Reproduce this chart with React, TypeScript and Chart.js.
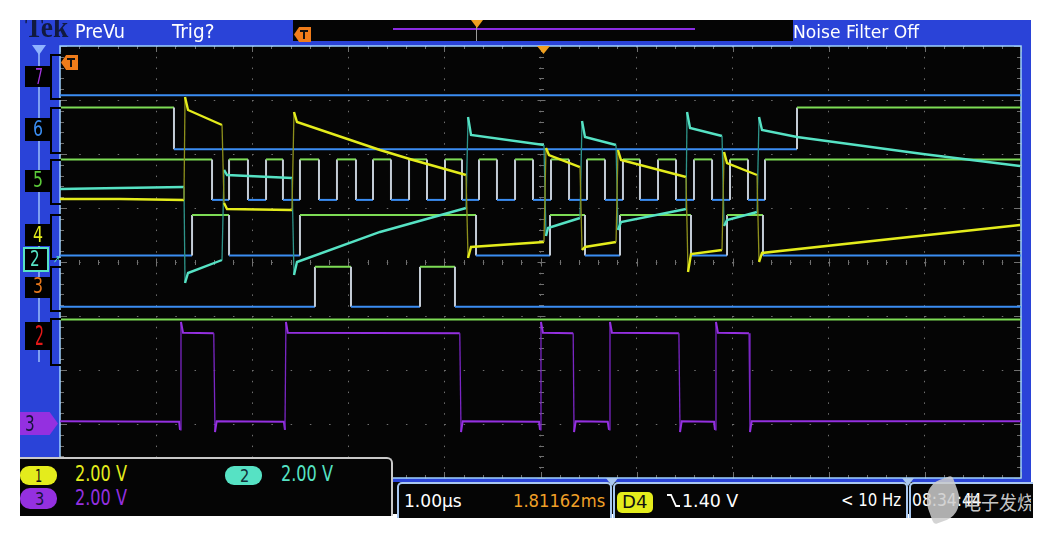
import React, { useEffect, useLayoutEffect, useRef } from "react";
import { Chart, registerables } from "chart.js";
Chart.register(...registerables);

// Horizontal: time in divisions (1.00 µs/div, 10 div). Vertical: screen divisions (0 bottom .. 8 top).
const ch1Time = [0, 0.624, 1.29, 1.301, 1.332, 1.686, 1.707, 1.738, 2.414, 2.435, 2.466, 3.33, 3.673, 4.225, 4.246, 4.277, 5.036, 5.057, 5.088, 5.411, 5.432, 5.463, 5.786, 5.806, 5.838, 6.514, 6.535, 6.566, 6.889, 6.91, 6.941, 7.253, 7.274, 7.305, 9.99];
const ch1Level = [5.167, 5.167, 5.148, 7.056, 6.815, 6.537, 5.093, 4.981, 4.963, 6.778, 6.593, 6.074, 5.889, 5.611, 4.074, 4.278, 4.37, 6.111, 5.981, 5.759, 4.222, 4.278, 4.37, 6.074, 5.889, 5.574, 3.815, 4.148, 4.222, 6.037, 5.833, 5.611, 4.0, 4.167, 4.685];

const ch2Time = [0, 0.624, 1.29, 1.301, 1.332, 1.686, 1.707, 1.738, 2.414, 2.435, 2.466, 3.33, 4.225, 4.246, 4.277, 5.036, 5.057, 5.078, 5.411, 5.432, 5.463, 5.786, 5.806, 5.838, 6.514, 6.525, 6.556, 6.889, 6.91, 6.941, 7.253, 7.274, 7.305, 7.669, 8.98, 9.99];
const ch2Level = [5.352, 5.37, 5.389, 3.611, 3.796, 4.037, 5.704, 5.611, 5.556, 3.759, 4.0, 4.556, 5.0, 6.685, 6.352, 6.167, 4.481, 4.63, 4.815, 6.611, 6.315, 6.167, 4.593, 4.741, 4.981, 6.778, 6.481, 6.333, 4.667, 4.778, 4.926, 6.685, 6.444, 6.315, 6.0, 5.778];

const ch3Time = [0, 1.24, 1.249, 1.259, 1.28, 1.6, 1.613, 1.63, 2.33, 2.341, 2.351, 2.37, 4.16, 4.173, 4.19, 4.985, 4.995, 5.005, 5.025, 5.34, 5.349, 5.366, 5.7, 5.713, 5.723, 5.743, 6.44, 6.452, 6.469, 6.806, 6.816, 6.826, 6.846, 7.17, 7.18, 7.197, 10];
const ch3Level = [1.05, 1.04, 0.89, 2.89, 2.69, 2.68, 0.85, 1.05, 1.04, 0.89, 2.89, 2.69, 2.68, 0.85, 1.05, 1.04, 0.89, 2.89, 2.69, 2.68, 0.85, 1.05, 1.04, 0.89, 2.89, 2.69, 2.68, 0.85, 1.05, 1.04, 0.89, 2.89, 2.69, 2.68, 0.85, 1.05, 1.05];

const digitalNames = ["D7", "D6", "D5", "D4", "D3", "D2"];
const digitalLow = [7.09, 6.09, 5.15, 4.12, 3.17, 2.19];
const digitalHigh = [7.83, 6.86, 5.9, 4.87, 3.91, 2.935];
const digitalStartHigh = [false, true, true, false, false, true];
const d7Edges: number[] = [];
const d6Edges = [1.186, 7.669];
const d5Edges = [1.582, 1.759, 1.956, 2.144, 2.32, 2.497, 2.695, 2.882, 3.08, 3.257, 3.444, 3.632, 3.819, 4.006, 4.183, 4.36, 4.547, 4.735, 4.922, 5.109, 5.297, 5.484, 5.671, 5.858, 6.035, 6.223, 6.41, 6.597, 6.785, 6.972, 7.159, 7.336];
const d4Edges = [1.374, 1.759, 2.497, 4.329, 5.099, 5.463, 5.827, 6.566, 6.941, 7.315];
const d3Edges = [2.653, 3.028, 3.746, 4.11];
const d2Edges: number[] = [];
const digitalEdges = [d7Edges, d6Edges, d5Edges, d4Edges, d3Edges, d2Edges];

const YELLOW = "#e4ec1c";
const DIM_YELLOW = "#8e901c";
const CYAN = "#56e2c4";
const DIM_CYAN = "#2e948a";
const PURPLE = "#9430e0";
const GREEN = "#7ddc55";
const BLUE = "#3b8df2";
const EDGE = "#c4ccd6";
const GRID = "#707070";
const FRAME = "#2a43d8";
const FONT = "'DejaVu Sans Condensed', 'Liberation Sans Narrow', 'DejaVu Sans', sans-serif";

function digitalPoints(edges: number[], startHigh: boolean, low: number, high: number) {
  let st = startHigh;
  const pts = [{ x: 0, y: st ? high : low }];
  for (const e of edges) {
    pts.push({ x: e, y: st ? high : low });
    st = !st;
    pts.push({ x: e, y: st ? high : low });
  }
  pts.push({ x: 10, y: st ? high : low });
  return pts;
}

function analogSet(label: string, t: number[], v: number[], color: string, dim: string, w: number) {
  const steep = (c: any) =>
    Math.abs(c.p1.parsed.x - c.p0.parsed.x) < 0.025 && Math.abs(c.p1.parsed.y - c.p0.parsed.y) > 0.6;
  return {
    label,
    data: t.map((x, i) => ({ x, y: v[i] })),
    borderColor: color,
    borderWidth: w,
    pointRadius: 0,
    segment: {
      borderColor: (c: any) => (steep(c) ? dim : color),
      borderWidth: (c: any) => (steep(c) ? 1.3 : w),
    },
  };
}

const scopePlugin = {
  id: "scope",
  beforeDraw(chart: any) {
    const { ctx, chartArea: a } = chart;
    ctx.save();
    ctx.fillStyle = "#050505";
    ctx.fillRect(a.left, a.top, a.right - a.left, a.bottom - a.top);
    ctx.restore();
  },
  beforeDatasetsDraw(chart: any) {
    const { ctx, chartArea: a, scales } = chart;
    const x = scales.x, y = scales.y;
    const line = (x1: number, y1: number, x2: number, y2: number) => {
      ctx.beginPath();
      ctx.moveTo(x1, y1);
      ctx.lineTo(x2, y2);
      ctx.stroke();
    };
    ctx.save();
    ctx.strokeStyle = GRID;
    ctx.lineWidth = 1;
    const xc = Math.round(x.getPixelForValue(5)) + 0.5;
    const yc = Math.round(y.getPixelForValue(4)) + 0.5;
    for (let i = 0; i <= 50; i++) {
      const px = Math.round(x.getPixelForValue(i * 0.2)) + 0.5;
      const L = i % 5 === 0 ? 4 : 2.5;
      line(px, yc - L, px, yc + L);
      line(px, a.top, px, a.top + (i % 5 === 0 ? 6 : 3));
      line(px, a.bottom, px, a.bottom - (i % 5 === 0 ? 6 : 3));
    }
    for (let j = 0; j <= 40; j++) {
      const py = Math.round(y.getPixelForValue(j * 0.2)) + 0.5;
      const L = j % 5 === 0 ? 4 : 2.5;
      line(xc - L, py, xc + L, py);
      line(a.left, py, a.left + (j % 5 === 0 ? 7 : 4), py);
      line(a.right, py, a.right - (j % 5 === 0 ? 7 : 4), py);
    }
    ctx.strokeStyle = "#9fd2ff";
    ctx.lineWidth = 1.5;
    ctx.strokeRect(a.left, a.top, a.right - a.left, a.bottom - a.top);
    ctx.restore();
  },
};

function Txt({ x, y, w, s, c, t, f = FONT, wt = 400 }: any) {
  const ref = useRef<HTMLSpanElement>(null);
  useLayoutEffect(() => {
    const el = ref.current;
    if (!el) return;
    const fit = () => {
      const nw = el.offsetWidth;
      if (nw > 0) el.style.transform = `scaleX(${w / nw})`;
    };
    fit();
    const fonts = (document as any).fonts;
    if (fonts && fonts.ready) fonts.ready.then(fit);
  }, [w, t]);
  return (
    <span
      ref={ref}
      style={{
        position: "absolute",
        left: x,
        top: y - 0.485 * s,
        fontSize: s,
        lineHeight: `${s}px`,
        color: c,
        fontFamily: f,
        fontWeight: wt,
        whiteSpace: "pre",
        transformOrigin: "0 50%",
      }}
    >
      {t}
    </span>
  );
}

function Box({ x, y, w, h, bg, st }: any) {
  return <div style={{ position: "absolute", left: x, top: y, width: w, height: h, background: bg, ...(st || {}) }} />;
}

function TMarker({ x, y }: any) {
  return (
    <div
      style={{
        position: "absolute", left: x, top: y, width: 17, height: 15, background: "#f07c1a",
        clipPath: "polygon(0 50%, 30% 0, 100% 0, 100% 100%, 30% 100%)",
      }}
    >
      <div style={{ position: "absolute", left: 6, top: 3, width: 8, height: 2, background: "#111" }} />
      <div style={{ position: "absolute", left: 9, top: 3, width: 2, height: 9, background: "#111" }} />
    </div>
  );
}

function Bracket({ top, bottom }: any) {
  return (
    <div
      style={{
        position: "absolute", left: 50, top, width: 9, height: bottom - top,
        borderTop: "2px solid #000", borderLeft: "2px solid #000", borderBottom: "2px solid #000",
      }}
    />
  );
}

export default function App() {
  const canvasRef = useRef<HTMLCanvasElement>(null);

  useEffect(() => {
    const canvas = canvasRef.current;
    if (!canvas) return;
    const datasets: any[] = [
      analogSet("CH1", ch1Time, ch1Level, YELLOW, DIM_YELLOW, 2.4),
      analogSet("CH2", ch2Time, ch2Level, CYAN, DIM_CYAN, 2.4),
      analogSet("CH3", ch3Time, ch3Level, PURPLE, "#7a26c4", 2),
    ];
    digitalNames.forEach((name, k) => {
      const mid = (digitalLow[k] + digitalHigh[k]) / 2;
      datasets.push({
        label: name,
        data: digitalPoints(digitalEdges[k], digitalStartHigh[k], digitalLow[k], digitalHigh[k]),
        borderWidth: 2,
        pointRadius: 0,
        borderColor: BLUE,
        segment: {
          borderColor: (c: any) =>
            Math.abs(c.p0.parsed.y - c.p1.parsed.y) > 0.05 ? EDGE : c.p0.parsed.y > mid ? GREEN : BLUE,
        },
      });
    });
    const chart = new Chart(canvas, {
      type: "line",
      data: { datasets },
      options: {
        animation: false,
        responsive: false,
        events: [],
        layout: { padding: { left: 60, top: 46, right: 39, bottom: 56 } },
        plugins: { legend: { display: false }, tooltip: { enabled: false } },
        elements: { point: { radius: 0 }, line: { tension: 0 } },
        scales: {
          x: {
            type: "linear", min: 0, max: 10,
            ticks: { display: false, stepSize: 1 },
            grid: { color: GRID, lineWidth: 1, drawTicks: false },
            border: { display: false, dash: [1.5, 9.3] },
            afterFit: (s: any) => { s.height = 0; },
          },
          y: {
            type: "linear", min: 0, max: 8,
            ticks: { display: false, stepSize: 1 },
            grid: { color: GRID, lineWidth: 1, drawTicks: false },
            border: { display: false, dash: [1.5, 17.72] },
            afterFit: (s: any) => { s.width = 0; },
          },
        },
      } as any,
      plugins: [scopePlugin],
    });
    return () => chart.destroy();
  }, []);

  return (
    <div style={{ position: "absolute", left: 0, top: 0, width: 1060, height: 534, background: "#fff", overflow: "hidden" }}>
      {/* blue frame */}
      <Box x={20} y={20} w={1011} h={462} bg={FRAME} />
      <canvas ref={canvasRef} width={1060} height={534} style={{ position: "absolute", left: 0, top: 0 }} />

      {/* header */}
      <Box x={293} y={20} w={500} h={21} bg="#050505" />
      <TMarker x={294} y={27} />
      <Box x={393} y={28} w={302} h={2} bg="#8a2be2" />
      <Box x={476} y={26} w={1} h={15} bg="#9a9a9a" />
      <div style={{ position: "absolute", left: 471, top: 20, width: 12, height: 8, background: "#f0a020", clipPath: "polygon(0 0, 100% 0, 50% 100%)" }} />
      <div style={{ position: "absolute", left: 20, top: 20, width: 60, height: 21, overflow: "hidden" }}>
        <Txt x={5} y={7} w={43} s={30} c="#111a40" t="Tek" f="'Liberation Serif', 'DejaVu Serif', serif" wt={700} />
      </div>
      <Txt x={75} y={30.5} w={50} s={20} c="#fff" t="PreVu" />
      <Txt x={172} y={30.5} w={42} s={20} c="#fff" t="Trig?" />
      <Txt x={793} y={31.5} w={126} s={18} c="#fff" t="Noise Filter Off" />

      {/* graticule markers */}
      <TMarker x={61} y={55} />
      <div style={{ position: "absolute", left: 537, top: 46, width: 13, height: 8, background: "#f0a020", clipPath: "polygon(0 0, 100% 0, 50% 100%)" }} />

      {/* left strip */}
      <Box x={38} y={46} w={2} h={316} bg="#7f9ff2" />
      <div style={{ position: "absolute", left: 32, top: 45, width: 14, height: 10, background: "#8fb4ff", clipPath: "polygon(0 0, 100% 0, 50% 100%)" }} />
      <Bracket top={54} bottom={96} />
      <Bracket top={107} bottom={150} />
      <Bracket top={159} bottom={201} />
      <Bracket top={214} bottom={256} />
      <Bracket top={266} bottom={308} />
      <Bracket top={318} bottom={362} />
      <Box x={25} y={66} w={26} h={21} bg="#000" />
      <Box x={25} y={118} w={26} h={23} bg="#000" />
      <Box x={25} y={170} w={26} h={22} bg="#000" />
      <Box x={25} y={224} w={26} h={22} bg="#000" />
      <Box x={25} y={277} w={26} h={21} bg="#000" />
      <Box x={25} y={322} w={26} h={28} bg="#000" />
      <Box x={23} y={247} w={22} h={21} bg="#000" st={{ border: `2px solid ${CYAN}` }} />
      <Txt x={35} y={77} w={8} s={21} c="#a436e0" t="7" />
      <Txt x={33} y={129.5} w={10} s={21} c="#3a8cf0" t="6" />
      <Txt x={33} y={180.5} w={10} s={21} c="#5ccc3a" t="5" />
      <Txt x={33} y={235} w={10} s={21} c={YELLOW} t="4" />
      <Txt x={30} y={258.5} w={10} s={22} c={CYAN} t="2" />
      <Txt x={53} y={259} w={7} s={11} c={CYAN} t="↗" />
      <Txt x={33} y={286.5} w={10} s={21} c="#e8781c" t="3" />
      <Txt x={35} y={336} w={9} s={26} c="#e41818" t="2" />
      <div style={{ position: "absolute", left: 20, top: 412, width: 38, height: 23, background: PURPLE, clipPath: "polygon(0 0, 78% 0, 100% 50%, 78% 100%, 0 100%)" }} />
      <Txt x={25} y={423.5} w={10} s={22} c="#14143a" t="3" />

      {/* bottom-left panel */}
      <Box x={20} y={457} w={371} h={57} bg="#050505" st={{ borderTop: "2px solid #c9c9c9", borderRight: "2px solid #c9c9c9", borderTopRightRadius: 6 }} />
      <Box x={20} y={466} w={37} h={19} bg={YELLOW} st={{ borderRadius: 9 }} />
      <Txt x={35} y={475.5} w={7} s={18} c="#111" t="1" />
      <Txt x={75} y={474} w={52} s={21} c={YELLOW} t="2.00 V" />
      <Box x={225} y={466} w={37} h={19} bg={CYAN} st={{ borderRadius: 9 }} />
      <Txt x={240} y={475.5} w={9} s={18} c="#10303a" t="2" />
      <Txt x={281} y={474} w={52} s={21} c={CYAN} t="2.00 V" />
      <Box x={20} y={488} w={37} h={21} bg={PURPLE} st={{ borderRadius: 10 }} />
      <Txt x={35} y={498.5} w={9} s={18} c="#14143a" t="3" />
      <Txt x={75} y={498.5} w={52} s={21} c={PURPLE} t="2.00 V" />

      {/* bottom-right bar */}
      <Box x={393} y={482} w={638} h={32} bg="#050505" />
      <Box x={397} y={482} w={211} h={34} bg="#050505" st={{ border: "2px solid #a9c8f0", borderBottom: "none", borderRadius: "5px 5px 0 0" }} />
      <Box x={613} y={482} w={291} h={34} bg="#050505" st={{ border: "2px solid #a9c8f0", borderBottom: "none", borderRadius: "5px 5px 0 0" }} />
      <Box x={909} y={482} w={122} h={34} bg="#050505" st={{ borderTop: "2px solid #a9c8f0", borderLeft: "2px solid #a9c8f0", borderRadius: "5px 0 0 0" }} />
      <div style={{ position: "absolute", left: 606, top: 478, width: 12, height: 8, background: "#a9c8f0", clipPath: "polygon(0 0, 100% 0, 50% 100%)" }} />
      <div style={{ position: "absolute", left: 902, top: 478, width: 12, height: 8, background: "#a9c8f0", clipPath: "polygon(0 0, 100% 0, 50% 100%)" }} />
      <Txt x={404} y={501} w={58} s={18} c="#fff" t="1.00µs" />
      <Txt x={513} y={501} w={92} s={18} c="#f0a028" t="1.81162ms" />
      <Box x={617} y={492} w={36} h={21} bg={YELLOW} st={{ borderRadius: 5 }} />
      <Txt x={622} y={502.5} w={26} s={17} c="#111" t="D4" />
      <svg style={{ position: "absolute", left: 666, top: 493 }} width={15} height={15}>
        <polyline points="1,2 5,2 10,13 14,13" fill="none" stroke="#fff" strokeWidth={1.8} />
      </svg>
      <Txt x={682} y={501} w={56} s={18} c="#fff" t="1.40 V" />
      <Txt x={841} y={500} w={60} s={18} c="#fff" t="< 10 Hz" />
      <Txt x={912} y={500} w={70} s={18} c="#fff" t="08:34:44" />
      <div style={{ position: "absolute", left: 926, top: 480, width: 34, height: 40, background: "rgba(205,205,205,0.85)", borderRadius: "60% 10% 60% 10%", transform: "rotate(-20deg)" }} />
      <div style={{ position: "absolute", left: 955, top: 484, width: 76, height: 30, overflow: "hidden" }}>
        <Txt x={8} y={17} w={90} s={19} c="rgba(225,225,225,0.9)" t="电子发烧友" f="'Noto Sans CJK SC', sans-serif" />
      </div>
    </div>
  );
}
